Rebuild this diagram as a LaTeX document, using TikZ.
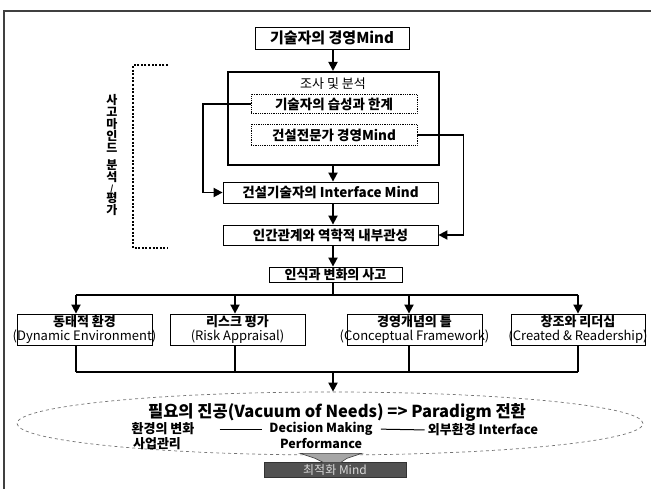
\documentclass[tikz,border=0pt]{standalone}
\usepackage{fontspec}
\setmainfont{Noto Sans CJK KR}
\usetikzlibrary{arrows.meta,shapes.geometric}

\tikzset{
  fs/.style={font=\fontsize{#1}{#1}\selectfont},
  bfs/.style={font=\bfseries\fontsize{#1}{#1}\selectfont},
  frameline/.style={line width=1.4pt, draw=black!75},
  plainbox/.style={draw, line width=0.8pt, inner sep=0pt, align=center},
  dotbox/.style={draw, line width=0.8pt, densely dotted, inner sep=0pt, align=center},
  heavybox/.style={draw, line width=2pt, inner sep=0pt},
  branchbox/.style={plainbox, minimum width=135pt, minimum height=31pt, fs=13},
  flow/.style={line width=1.8pt, -{Triangle[length=9pt,width=9pt]}},
  wire/.style={line width=1.8pt},
  bracketline/.style={line width=2pt, dash pattern=on 2pt off 1.6pt},
  label/.style={inner sep=0pt, align=center}
}

\begin{document}
\begin{tikzpicture}[x=1pt, y=-1pt]
\useasboundingbox (0,0) rectangle (651,489);

% page frame (top and left rules)
\draw[frameline] (651,11) -- (4,11) -- (4,489);

% vertical caption and dotted bracket
\node[label, bfs=12] (cap) at (112,155)
  {사\\고\\마\\인\\드\\[5pt]분\\석\\[-2pt]{\fontsize{8}{8}\selectfont /}\\[-1pt]평\\가};
\draw[bracketline] (168,65) -- (133,65) -- (133,248) -- (168,248);

% upper chain
\node[plainbox, minimum width=154pt, minimum height=22pt, bfs=15]
  (top) at (332,38) {기술자의 경영Mind};
\node[heavybox, minimum width=211pt, minimum height=93pt] (survey) at (333.5,118.5) {};
\node[label, fs=13] (stitle) at (333,84) {조사 및 분석};
\node[dotbox, minimum width=166pt, minimum height=19pt, bfs=13.5]
  (habit) at (334,104) {기술자의 습성과 한계};
\node[dotbox, minimum width=166pt, minimum height=21pt, bfs=13.5]
  (expert) at (334,135) {건설전문가 경영Mind};
\node[plainbox, minimum width=215pt, minimum height=21pt, bfs=13.5]
  (iface) at (330.5,192.5) {건설기술자의 Interface Mind};
\node[plainbox, minimum width=215pt, minimum height=20pt, bfs=13.5]
  (rel) at (330.5,235) {인간관계와 역학적 내부관성};
\node[plainbox, minimum width=133pt, minimum height=15pt, bfs=13]
  (recog) at (335.5,274.5) {인식과 변화의 사고};

\coordinate (sx) at (333,0);
\draw[flow] (top.south -| sx) -- (survey.north -| sx);
\draw[flow] (survey.south -| sx) -- (iface.north -| sx);
\draw[flow] (iface.south -| sx) -- (rel.north -| sx);
\draw[flow] (rel.south -| sx) -- (recog.north -| sx);
\draw[flow] (habit.west) -- ++(-48,0) |- (iface.west);
\draw[flow] (expert.east) -- ++(46,0) |- (rel.east);

% four perspectives
\node[branchbox] (dyn)  at (84.5,329.5)
  {\makebox[0pt]{\bfseries 동태적 환경}\\[1pt]\makebox[0pt]{(Dynamic Environment)}};
\node[branchbox] (risk) at (237.5,329.5)
  {\makebox[0pt]{\bfseries 리스크 평가}\\[1pt]\makebox[0pt]{(Risk Appraisal)}};
\node[branchbox] (conc) at (414.5,329.5)
  {\makebox[0pt]{\bfseries 경영개념의 틀}\\[1pt]\makebox[0pt]{(Conceptual Framework)}};
\node[branchbox, minimum width=134pt] (crea) at (578,329.5)
  {\makebox[0pt]{\bfseries 창조와 리더십}\\[1pt]\makebox[0pt]{(Created \& Readership)}};

\coordinate (t1) at (76,295);  \coordinate (t2) at (235,295);
\coordinate (t3) at (409,295); \coordinate (t4) at (578,295);
\draw[wire] (recog.south -| sx) -- (sx |- t1);
\draw[wire] (t1) -- (t4);
\draw[flow] (t1) -- (t1 |- dyn.north);
\draw[flow] (t2) -- (t2 |- risk.north);
\draw[flow] (t3) -- (t3 |- conc.north);
\draw[flow] (t4) -- (t4 |- crea.north);

\coordinate (b1) at (76,372);  \coordinate (b2) at (235,372);
\coordinate (b3) at (409,372); \coordinate (b4) at (578,372);
\draw[wire] (dyn.south -| b1) -- (b1);
\draw[wire] (risk.south -| b2) -- (b2);
\draw[wire] (conc.south -| b3) -- (b3);
\draw[wire] (crea.south -| b4) -- (b4);
\draw[wire] (b1) -- (b4);

% paradigm shift ellipse
\node[ellipse, draw=black!55, dashed, line width=0.7pt, minimum width=626pt, minimum height=63pt]
  (vac) at (330,423.5) {};
\draw[flow] (sx |- b1) -- (sx |- vac.north);
\node[label, bfs=16.5] (need) at (337,412)
  {필요의 진공(Vacuum of Needs) => Paradigm 전환};
\node[label, bfs=13] (chg) at (163,429) {환경의 변화};
\node[label, bfs=13] (biz) at (157,444) {사업관리};
\node[label, bfs=12.5] (dec) at (321,429) {Decision Making};
\node[label, bfs=12.5] (perf) at (321,444) {Performance};
\node[label, bfs=13] (ext) at (483,430) {외부환경 Interface};
\draw[line width=1pt, shorten <=25pt, shorten >=7pt] (chg.east) -- (dec.west);
\draw[line width=1pt, shorten <=8pt, shorten >=3pt] (dec.east) -- (ext.west);

% result
\node[draw=black!80, fill=black!68, text=white!85!black, minimum width=142pt, minimum height=15pt,
      inner sep=0pt, fs=12] (opt) at (335,470) {최적화 Mind};
\draw[draw=black!75, fill=black!35, line width=0.6pt]
  ([xshift=-35pt,yshift=9pt]opt.north) -- ([xshift=27pt,yshift=9pt]opt.north)
  -- ([xshift=12pt,yshift=4pt]opt.north) -- ([xshift=6pt]opt.north)
  -- ([xshift=-12pt]opt.north) -- ([xshift=-20pt,yshift=4pt]opt.north) -- cycle;
\end{tikzpicture}
\end{document}
